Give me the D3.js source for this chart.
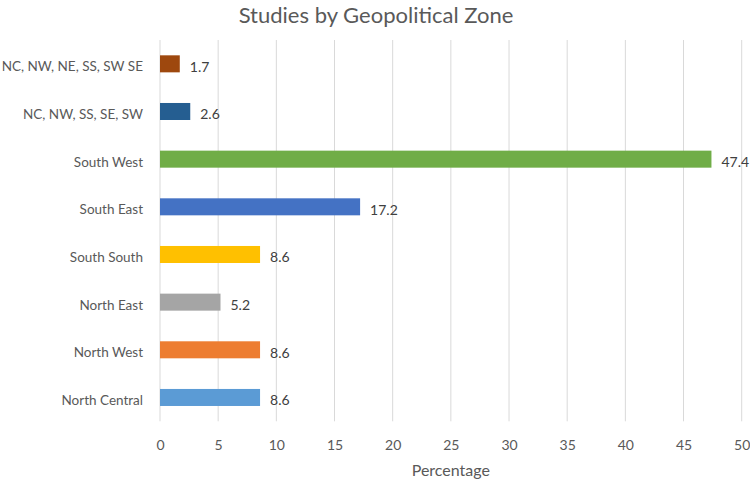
<!DOCTYPE html>
<html><head><meta charset="utf-8">
<script src="https://cdn.jsdelivr.net/npm/d3@7"></script>
<style>body{margin:0;background:#fff;} text{font-family:Lato,"Open Sans",sans-serif;}</style>
</head><body>
<svg id="chart" width="750" height="480"></svg>
<script>
const categories = ["North Central","North West","North East","South South","South East","South West","NC, NW, SS, SE, SW","NC, NW, NE, SS, SW SE"];
const values = [8.6, 8.6, 5.2, 8.6, 17.2, 47.4, 2.6, 1.7];
const colors = ["#5b9bd5","#ed7d31","#a5a5a5","#ffc000","#4472c4","#70ad47","#255e91","#9e480e"];
const xTicks = [0,5,10,15,20,25,30,35,40,45,50];

const svg = d3.select("#chart");
const W = 750, H = 480;
const plotTop = 40, plotBottom = 421.3, plotLeft = 160, plotRight = 741.7;
const x = d3.scaleLinear().domain([0,50]).range([plotLeft, plotRight]);
const pin = 0.643;
const y = d3.scaleBand().domain(categories.slice().reverse()).range([plotTop, plotBottom]).paddingInner(pin).paddingOuter(pin/2);

svg.append("g").selectAll("line").data(xTicks).join("line")
  .attr("x1",d=>x(d)).attr("x2",d=>x(d)).attr("y1",plotTop).attr("y2",plotBottom)
  .attr("stroke","#d9d9d9").attr("stroke-width",1);

const xAxis = svg.append("g").attr("transform",`translate(0,${plotBottom})`)
  .call(d3.axisBottom(x).tickValues(xTicks).tickSize(0).tickPadding(0));
xAxis.select(".domain").remove();
xAxis.selectAll("text").attr("fill","#595959").style("font-size","14px").attr("dy",null).attr("y",29);

const yAxis = svg.append("g").attr("transform",`translate(${plotLeft},0)`)
  .call(d3.axisLeft(y).tickSize(0).tickPadding(17));
yAxis.select(".domain").remove();
yAxis.selectAll("text").attr("fill","#595959").style("font-size","13.5px").attr("dy",null).attr("y",7.5);

svg.append("g").selectAll("rect").data(categories).join("rect")
  .attr("x",x(0)).attr("y",d=>y(d)).attr("height",y.bandwidth())
  .attr("width",(d,i)=>x(values[i])-x(0)).attr("fill",(d,i)=>colors[i]);

svg.append("g").selectAll("text").data(categories).join("text")
  .attr("x",(d,i)=>x(values[i])+10).attr("y",d=>y(d)+y.bandwidth()/2+8)
  .attr("fill","#404040").style("font-size","14px")
  .text((d,i)=>values[i]);

svg.append("text").attr("x",376).attr("y",23).attr("text-anchor","middle")
  .attr("fill","#595959").style("font-size","22px").text("Studies by Geopolitical Zone");
svg.append("text").attr("x",(x(0)+x(50))/2).attr("y",476).attr("text-anchor","middle")
  .attr("fill","#595959").style("font-size","16px").text("Percentage");
</script>
</body></html>
